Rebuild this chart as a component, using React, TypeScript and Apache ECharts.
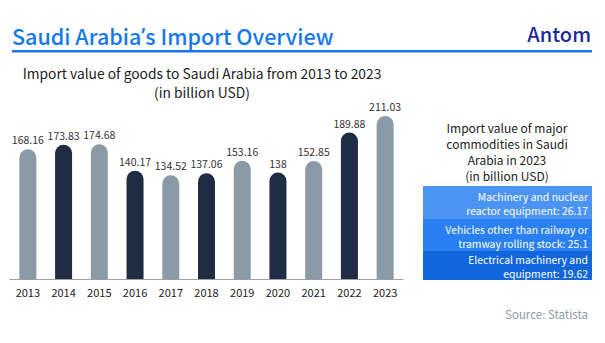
import React, { useEffect, useRef } from "react";
import * as echarts from "echarts";

const years = ["2013", "2014", "2015", "2016", "2017", "2018", "2019", "2020", "2021", "2022", "2023"];
const importValues = [168.16, 173.83, 174.68, 140.17, 134.52, 137.06, 153.16, 138, 152.85, 189.88, 211.03];
const commodityNames = [
  "Machinery and nuclear\nreactor equipment",
  "Vehicles other than railway or\ntramway rolling stock",
  "Electrical machinery and\nequipment",
];
const commodityValues = [26.17, 25.1, 19.62];

const LIGHT = "#8a9aa7";
const DARK = "#1f2c43";
const BOX_COLORS = ["#4b94f4", "#2a80f1", "#1266dc"];
const FONT = "Noto Sans CJK SC";

export default function App() {
  const ref = useRef<HTMLDivElement>(null);
  useEffect(() => {
    if (!ref.current) return;
    const chart = echarts.init(ref.current, undefined, { renderer: "svg" });
    const boxTop = 186;
    const boxHeights = [33, 32, 29];
    const boxes: any[] = [];
    let y = boxTop;
    commodityNames.forEach((name, i) => {
      const h = boxHeights[i];
      boxes.push({
        type: "rect",
        shape: { x: 423, y, width: 169, height: h },
        style: { fill: BOX_COLORS[i] },
      });
      boxes.push({
        type: "text",
        x: 588,
        y: y + h / 2 + 1,
        style: {
          text: `${name}: ${commodityValues[i]}`,
          fill: "#ffffff",
          font: `10.4px '${FONT}'`,
          align: "right",
          verticalAlign: "middle",
          lineHeight: 14,
        },
      });
      y += h;
    });
    const panelTitle = ["Import value of major", "commodities in Saudi", "Arabia in 2023", "(in billion USD)"];
    chart.setOption({
      animation: false,
      backgroundColor: "#ffffff",
      grid: { left: 10, width: 393, bottom: 64, top: 86, containLabel: false },
      xAxis: {
        type: "category",
        data: years,
        axisTick: { show: false },
        axisLine: { lineStyle: { color: "#9aa0a6", width: 1 } },
        axisLabel: { color: "#222", fontSize: 11, fontFamily: FONT, margin: 7 },
      },
      yAxis: { type: "value", min: 0, max: 250, show: false, splitLine: { show: false } },
      series: [
        {
          type: "bar",
          data: importValues.map((v, i) => ({
            value: v,
            itemStyle: { color: i % 2 === 0 ? LIGHT : DARK },
          })),
          barWidth: 17,
          itemStyle: { borderRadius: [8.5, 8.5, 0, 0] },
          label: {
            show: true,
            position: "top",
            distance: 4,
            color: "#333",
            fontSize: 10.5,
            fontFamily: FONT,
          },
        },
      ],
      graphic: [
        {
          type: "text",
          x: 12,
          y: 35,
          style: {
            text: "Saudi Arabia{a|’}s Import Overview",
            fill: "#1677f0",
            font: `500 21.5px '${FONT}'`,
            verticalAlign: "middle",
            rich: {
              a: { fontFamily: "Noto Sans", fontSize: 21.5, fontWeight: 500, fill: "#1677f0" },
            },
          },
        },
        {
          type: "text",
          x: 591,
          y: 33,
          style: { text: "Antom", fill: "#1c2b94", font: `500 20px '${FONT}'`, align: "right", verticalAlign: "middle" },
        },
        {
          type: "rect",
          shape: { x: 12, y: 50, width: 580, height: 2.5 },
          style: { fill: "#1677f0" },
        },
        {
          type: "text",
          x: 202,
          y: 82,
          style: {
            text: "Import value of goods to Saudi Arabia from 2013 to 2023\n(in billion USD)",
            fill: "#222",
            font: `13.8px '${FONT}'`,
            align: "center",
            verticalAlign: "middle",
            lineHeight: 19,
          },
        },
        ...panelTitle.map((t, i) => ({
          type: "text",
          x: 507,
          y: 127 + i * 16,
          style: {
            text: t,
            fill: "#222",
            font: `12px '${FONT}'`,
            align: "center",
            verticalAlign: "middle",
          },
        })),
        ...boxes,
        {
          type: "text",
          x: 588,
          y: 314,
          style: {
            text: "Source: Statista",
            fill: "#8a9aa7",
            font: `11.5px '${FONT}'`,
            align: "right",
            verticalAlign: "middle",
          },
        },
      ],
    });
    return () => chart.dispose();
  }, []);
  return <div ref={ref} style={{ position: "fixed", left: 0, top: 0, width: 605, height: 343 }} />;
}
